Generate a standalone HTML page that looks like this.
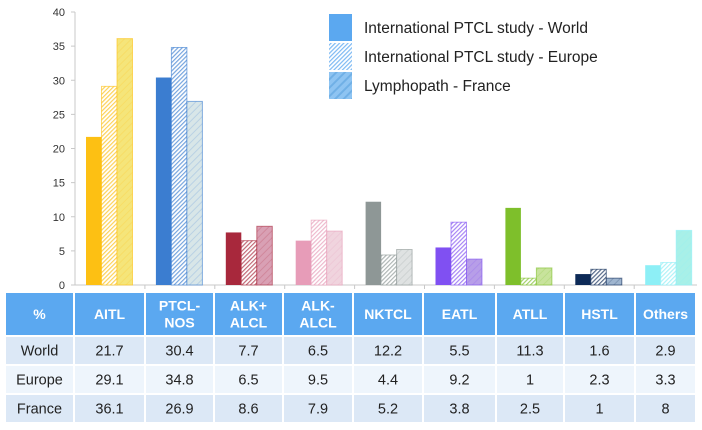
<!DOCTYPE html>
<html><head><meta charset="utf-8">
<style>
body{margin:0;background:#fff;width:702px;height:430px;overflow:hidden;font-family:"Liberation Sans",sans-serif;}
svg{position:absolute;left:0;top:0}
text{font-family:"Liberation Sans",sans-serif}
</style></head>
<body>
<svg id="chart" width="702" height="430">
<defs id="defs"></defs>
<g id="axis"></g>
<g id="bars"></g>
<g id="legend"></g>
<g id="table"></g>
</svg>
<script>
const categories=["AITL","PTCL-NOS","ALK+ ALCL","ALK- ALCL","NKTCL","EATL","ATLL","HSTL","Others"];
const headerLines=[["AITL"],["PTCL-","NOS"],["ALK+","ALCL"],["ALK-","ALCL"],["NKTCL"],["EATL"],["ATLL"],["HSTL"],["Others"]];
const world=[21.7,30.4,7.7,6.5,12.2,5.5,11.3,1.6,2.9];
const europe=[29.1,34.8,6.5,9.5,4.4,9.2,1,2.3,3.3];
const france=[36.1,26.9,8.6,7.9,5.2,3.8,2.5,1,8];
const yTicks=[0,5,10,15,20,25,30,35,40];
const seriesNames=["World","Europe","France"];
const legendLabels=["International PTCL study - World","International PTCL study - Europe","Lymphopath - France"];
const colors=["#FDC013","#3B7DD0","#A8283C","#E79CB8","#8E9796","#8050F2","#7EBF2B","#0D2A57","#8DEFF6"];
const lightColors=["#F5E57A","#D8E6E8","#D9A0B4","#F0D4DE","#DFE2E2","#B79EE8","#C8E39C","#9FB5CF","#A8F0E8"];

const NS="http://www.w3.org/2000/svg";
function mk(tag,attrs,parent){const e=document.createElementNS(NS,tag);for(const k in attrs)e.setAttribute(k,attrs[k]);parent.appendChild(e);return e;}
const x0=75,slot=69.9,yBase=285,yTop=12,yMax=40;
function y(v){return yBase-(v/yMax)*(yBase-yTop);}
function xCat(i){return x0+i*slot;}
const defs=document.getElementById('defs');
categories.forEach((c,i)=>{
 const p=mk('pattern',{id:'h'+i,width:3,height:3,patternUnits:'userSpaceOnUse',patternTransform:'rotate(45)'},defs);
 mk('rect',{width:3,height:3,fill:'#fff'},p);
 mk('rect',{width:1.2,height:3,fill:colors[i],opacity:0.7},p);
 const q=mk('pattern',{id:'f'+i,width:5,height:5,patternUnits:'userSpaceOnUse',patternTransform:'rotate(45)'},defs);
 mk('rect',{width:5,height:5,fill:lightColors[i]},q);
 mk('rect',{width:1,height:5,fill:colors[i],opacity:0.2},q);
});
(function(){
 const p=mk('pattern',{id:'lh',width:3,height:3,patternUnits:'userSpaceOnUse',patternTransform:'rotate(45)'},defs);
 mk('rect',{width:3,height:3,fill:'#fff'},p);mk('rect',{width:1.2,height:3,fill:'#5BA8F0',opacity:0.8},p);
 const q=mk('pattern',{id:'lf',width:6,height:6,patternUnits:'userSpaceOnUse',patternTransform:'rotate(45)'},defs);
 mk('rect',{width:6,height:6,fill:'#8EC4F2'},q);mk('rect',{width:2,height:6,fill:'#70B0E6'},q);
})();
const axis=document.getElementById('axis');
const ax=mk('line',{x1:x0,y1:yTop,x2:x0,y2:yBase,stroke:'#C8C8C8'},axis);

const bx=mk('line',{x1:x0,y1:yBase,x2:697,y2:yBase,stroke:'#C8C8C8'},axis);

yTicks.forEach(t=>{
 mk('line',{x1:x0-4,y1:y(t),x2:x0,y2:y(t),stroke:'#C8C8C8'},axis);
 const tx=mk('text',{x:x0-10,y:y(t)+4,'text-anchor':'end','font-size':11,fill:'#333'},axis);
 tx.textContent=t;
 
 
});
for(let i=1;i<=categories.length;i++){mk('line',{x1:xCat(i),y1:yBase,x2:xCat(i),y2:yBase+4,stroke:'#C8C8C8'},axis);}
const bars=document.getElementById('bars');
const series=[world,europe,france];
const bw=15.5;
categories.forEach((c,i)=>{
 series.forEach((s,j)=>{
  const bx=xCat(i)+11+j*bw;
  const fill=j===0?colors[i]:(j===1?'url(#h'+i+')':'url(#f'+i+')');
  const r=mk('rect',{x:bx,y:y(s[i]),width:bw,height:yBase-y(s[i]),fill:fill,stroke:j===0?'none':colors[i],'stroke-opacity':0.6,'stroke-width':1},bars);
  
  
 });
});
const legend=document.getElementById('legend');
const lf=['#5BA8F0','url(#lh)','url(#lf)'];
const ly=[14,43,72];
legendLabels.forEach((l,i)=>{
 const g=mk('g',{},legend);
 
 
 mk('rect',{x:329,y:ly[i],width:23,height:27,fill:lf[i]},g);
 const t=mk('text',{x:364,y:ly[i]+19,'font-size':15.5,fill:'#222'},g);
 t.textContent=l;
});
const table=document.getElementById('table');
const colX=[6,75,146,215,284,354,424,497,565,636,697];
const rowY=[293,337,366,395,424];
const rowFill=['#5BA8F0','#DCE8F6','#EEF5FC','#DCE8F6'];
for(let r=0;r<4;r++){
 for(let c=0;c<10;c++){
  const cell=mk('rect',{x:colX[c],y:rowY[r],width:colX[c+1]-colX[c]-2,height:rowY[r+1]-rowY[r]-2,fill:rowFill[r]},table);
  
  
  const cx=(colX[c]+colX[c+1]-2)/2;
  const cy=(rowY[r]+rowY[r+1]-2)/2;
  let lines;
  if(r===0) lines=c===0?['%']:headerLines[c-1];
  else lines=c===0?[seriesNames[r-1]]:[String(series[r-1][c-1])];
  lines.forEach((ln,k)=>{
   const t=mk('text',{x:cx,y:cy+5+(k-(lines.length-1)/2)*17,'text-anchor':'middle','font-size':r===0?14:14.5,'font-weight':r===0?'bold':'normal',fill:r===0?'#fff':'#222'},table);
   t.textContent=ln;
  });
 }
}
</script>
</body></html>
